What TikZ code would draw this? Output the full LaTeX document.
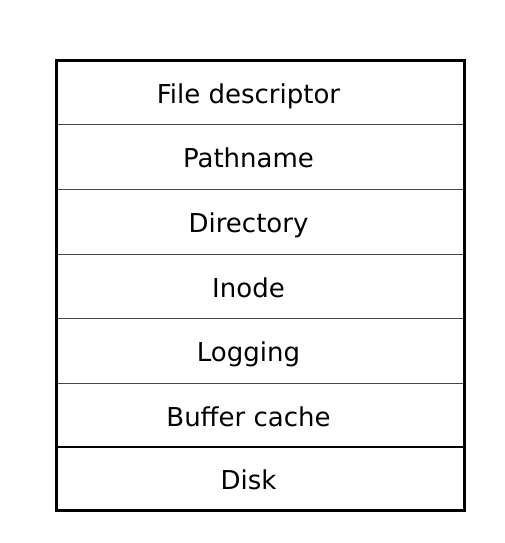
\documentclass[tikz,border=0pt]{standalone}
\usepackage{fontspec}
\setmainfont{DejaVu Sans}
\begin{document}
\begin{tikzpicture}[x=1pt,y=-1pt,
  thin sep/.style={draw=black!72, line width=1pt},
  thick sep/.style={draw=black, line width=2.5pt},
  layer/.style={font=\fontsize{26}{30}\selectfont, anchor=base, inner sep=0pt}]
\useasboundingbox (0,0) rectangle (505,543);
\coordinate (tl) at (56.5,60.5);
\coordinate (br) at (464.5,510.5);
\foreach \y in {124.5,189,254,318.5,383} {
  \draw[thin sep] (56.5,\y) -- (464.5,\y);
}
\draw[thick sep] (56.5,447) -- (464.5,447);
\draw[thick sep] (tl) rectangle (br);
\node[layer] (fd) at (248.5,103.3) {File descriptor};
\node[layer] (pn) at (248.5,167.5) {Pathname};
\node[layer] (dir) at (248.5,232) {Directory};
\node[layer] (ino) at (248.5,297) {Inode};
\node[layer] (log) at (248.5,361.5) {Logging};
\node[layer] (buf) at (248.5,426) {Buffer cache};
\node[layer] (disk) at (248.5,489) {Disk};
\end{tikzpicture}
\end{document}
